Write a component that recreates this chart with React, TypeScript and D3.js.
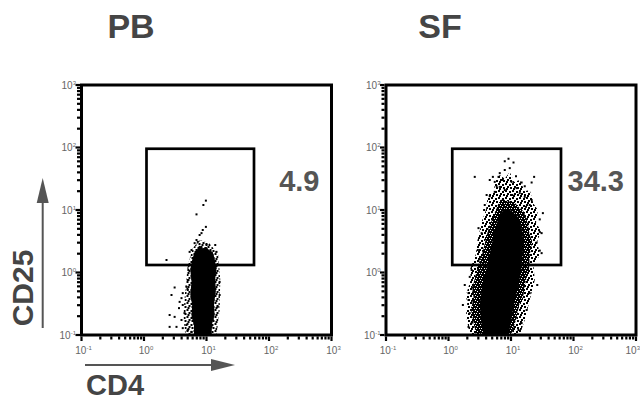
import React from 'react'
import * as d3 from 'd3'

// values are log10 of fluorescence intensity: [CD4, CD25]
const panelNames = ['PB', 'SF']
const gatePercents = ['4.9', '34.3']
const tickExponents = ['-1', '0', '1', '2', '3']

// gate: [cd4 low, cd4 high, cd25 low, cd25 high]
const pbGate = [0.04, 1.76, 0.12, 1.98]
const sfGate = [0.06, 1.8, 0.12, 1.98]

// solid (saturated) part of each cloud
const pbCore = [
  [0.84, 0.36], [0.9, 0.42], [0.94, 0.39], [1.0, 0.41], [1.04, 0.36], [1.1, 0.33], [1.13, 0.22],
  [1.16, 0.07], [1.14, -0.1], [1.15, -0.3], [1.12, -0.5], [1.13, -0.68], [1.09, -0.82], [1.08, -1.0],
  [0.8, -1.0], [0.8, -0.85], [0.76, -0.7], [0.77, -0.52], [0.74, -0.35], [0.76, -0.15], [0.74, 0.05],
  [0.77, 0.2], [0.8, 0.3],
]
const sfCore = [
  [0.86, 0.98], [0.95, 1.03], [1.03, 0.97], [1.12, 0.88], [1.18, 0.68], [1.2, 0.45], [1.18, 0.22],
  [1.16, 0.0], [1.1, -0.28], [1.04, -0.55], [1.0, -0.8], [0.96, -1.0], [0.56, -1.0], [0.52, -0.78],
  [0.5, -0.5], [0.54, -0.2], [0.62, 0.1], [0.68, 0.4], [0.74, 0.68], [0.8, 0.88],
]

// dense but not saturated band around the core
const sfMid = [
  [0.79, 1.08], [0.86, 1.18], [0.94, 1.14], [1.05, 1.13], [1.13, 1.04], [1.2, 0.98], [1.27, 0.79],
  [1.3, 0.6], [1.34, 0.5], [1.3, 0.28], [1.29, 0.05], [1.22, -0.2], [1.2, -0.36], [1.13, -0.52],
  [1.08, -0.76], [1.0, -1.0], [0.44, -1.0], [0.4, -0.8], [0.36, -0.6], [0.4, -0.4], [0.38, -0.25],
  [0.45, 0.02], [0.5, 0.2], [0.54, 0.3], [0.6, 0.55], [0.64, 0.7], [0.7, 0.86],
]

// speckled (sparse) envelope
const pbHalo = [
  [0.89, 0.52], [1.05, 0.47], [1.19, 0.28], [1.22, -0.12], [1.21, -0.6], [1.16, -1.0],
  [0.66, -1.0], [0.63, -0.68], [0.66, -0.28], [0.7, 0.12], [0.78, 0.39],
]
const sfHalo = [
  [0.82, 1.56], [0.9, 1.5], [0.98, 1.61], [1.05, 1.45], [1.14, 1.48], [1.22, 1.3], [1.3, 1.32],
  [1.36, 1.1], [1.43, 1.0], [1.4, 0.8], [1.48, 0.66], [1.42, 0.5], [1.46, 0.28], [1.36, 0.1],
  [1.38, -0.12], [1.3, -0.44], [1.22, -0.76], [1.14, -1.0], [0.34, -1.0], [0.28, -0.68],
  [0.3, -0.5], [0.28, -0.36], [0.36, -0.1], [0.34, 0.04], [0.44, 0.3], [0.46, 0.5], [0.54, 0.84],
  [0.6, 1.0], [0.63, 1.24], [0.73, 1.3], [0.74, 1.45],
]

// individual events outside the dense part
const pbDots = [
  [0.99, 1.15], [0.95, 1.08], [0.84, 0.93], [0.99, 0.73], [0.94, 0.68], [0.92, 0.63],
  [0.89, 0.6], [0.84, 0.52], [0.81, 0.47], [0.86, 0.49], [0.76, 0.36], [0.73, 0.33],
  [1.16, 0.33], [0.36, 0.2], [0.49, -0.24], [0.44, -0.36], [0.62, -0.33], [0.6, -0.41],
  [0.57, -0.47], [0.62, -0.52], [0.56, -0.57], [0.68, -0.23], [0.7, -0.28], [1.21, -0.15],
  [1.21, -0.36], [1.18, -0.55], [0.41, -0.68], [0.49, -0.71], [0.65, -0.65], [0.6, -0.76],
  [0.68, -0.84], [0.52, -0.87], [0.62, -0.89], [0.41, -0.87], [1.1, -0.76], [1.08, -0.87],
  [0.7, -0.92], [0.76, -0.95], [1.05, -0.95], [0.71, 0.04], [0.7, -0.12], [1.19, 0.12],
  [1.14, 0.44], [1.0, 0.44], [0.89, 0.41],
]
const sfDots = [
  [0.96, 1.82], [0.9, 1.78], [1.04, 1.76], [0.9, 1.64], [0.98, 1.67], [0.82, 1.59],
  [0.8, 1.53], [0.66, 1.48], [0.74, 1.45], [0.42, 1.53], [0.71, 1.53], [1.17, 1.44],
  [1.01, 1.45], [1.09, 1.35], [1.37, 1.53], [1.33, 1.44], [0.77, 1.38], [0.82, 1.37],
  [1.22, 1.38], [0.61, 1.24], [0.66, 1.22], [1.14, 1.27], [1.22, 1.21], [1.33, 1.16],
  [1.3, 1.08], [1.51, 0.95], [1.46, 0.85], [0.48, 0.71], [0.53, 0.63], [1.46, 0.65],
  [1.49, 0.63], [1.41, 0.48], [1.49, 0.31], [1.46, 0.35], [0.42, 0.12], [0.37, 0.04],
  [0.34, -0.07], [0.32, -0.33], [0.32, -0.44], [0.34, -0.65], [0.37, -0.81], [0.32, -0.87],
  [1.3, -0.33], [1.25, -0.6], [1.17, -0.81], [1.12, -0.92], [0.23, -0.52], [0.26, -0.2],
  [0.47, 0.36], [0.57, 1.0], [1.38, 0.12], [1.42, -0.2], [0.74, 1.29], [0.9, 1.32],
  [1.02, 1.24], [0.58, 1.08], [1.24, 1.05], [0.87, 1.48], [1.08, 1.54],
]

const SIZE = 250
const GREY = '#454545'
const FONT = '"Liberation Sans", Arial, Helvetica, sans-serif'

const x = d3.scaleLog().domain([0.1, 1000]).range([0, SIZE])
const y = d3.scaleLog().domain([0.1, 1000]).range([SIZE, 0])
const px = (v: number) => x(Math.pow(10, v))
const py = (v: number) => y(Math.pow(10, v))
const isMajor = (t: number) => Math.abs(Math.log10(t) - Math.round(Math.log10(t))) < 1e-6
const outline = d3.line<number[]>().x(d => px(d[0])).y(d => py(d[1])).curve(d3.curveLinearClosed)

const Panel = ({ left, top, gate, core, mid, halo, dots, pct, clipLast }: any) => {
  const ticks = x.ticks()
  const majors = ticks.filter(isMajor)
  return (
    <g transform={`translate(${left},${top})`}>
      <path d={outline(halo) || ''} fill="url(#sparse)" />
      {mid && <path d={outline(mid) || ''} fill="url(#dense)" />}
      <path d={outline(core) || ''} fill="#000" />
      {dots.map((d: number[], i: number) => (
        <rect key={i} x={px(d[0]) - 1} y={py(d[1]) - 1} width={2} height={2} fill="#000" />
      ))}
      <rect
        x={px(gate[0])} y={py(gate[3])}
        width={px(gate[1]) - px(gate[0])} height={py(gate[2]) - py(gate[3])}
        fill="none" stroke="#000" strokeWidth={2.7}
      />
      <text x={238} y={106} textAnchor="end" fontFamily={FONT} fontWeight="bold" fontSize={29} fill="#555">{pct}</text>
      <rect x={0} y={0} width={SIZE} height={SIZE} fill="none" stroke="#000" strokeWidth={3} />
      {ticks.map((t, i) => (
        <g key={i}>
          <line x1={-1.5} x2={isMajor(t) ? -6 : -4.5} y1={y(t)} y2={y(t)} stroke="#000" strokeWidth={2.2} />
          <line x1={x(t)} x2={x(t)} y1={SIZE + 1.5} y2={SIZE + (isMajor(t) ? 6 : 4.5)} stroke="#000" strokeWidth={2.2} />
        </g>
      ))}
      {majors.map((t, i) => {
        const last = clipLast && i === majors.length - 1
        return (
          <g key={'m' + i} fontFamily={FONT} fill="#666">
            <text x={-5.5} y={y(t) + 3.5} textAnchor="end" fontSize={10}>
              10<tspan fontSize={6} dy={-4}>{tickExponents[i]}</tspan>
            </text>
            <text x={last ? x(t) + 4 : x(t) + 2} y={SIZE + 18.5} textAnchor={last ? 'end' : 'middle'} fontSize={10}>
              10<tspan fontSize={6} dy={-4}>{tickExponents[i]}</tspan>
            </text>
          </g>
        )
      })}
    </g>
  )
}

export default function App() {
  return (
    <svg width={640} height={400} style={{ position: 'absolute', left: 0, top: 0, background: '#fff' }}>
      <defs>
        <pattern id="sparse" width={7} height={7} patternUnits="userSpaceOnUse">
          <rect x={0} y={0} width={2} height={2} fill="#000" />
          <rect x={4} y={1} width={2} height={2} fill="#000" />
          <rect x={2} y={3} width={2} height={2} fill="#000" />
          <rect x={5} y={4} width={2} height={2} fill="#000" />
          <rect x={1} y={5} width={2} height={2} fill="#000" />
        </pattern>
        <pattern id="dense" width={5} height={5} patternUnits="userSpaceOnUse">
          <rect x={0} y={0} width={5} height={5} fill="#000" />
          <rect x={1} y={1} width={1} height={1} fill="#fff" />
          <rect x={3} y={3} width={1} height={1} fill="#fff" />
          <rect x={4} y={0} width={1} height={1} fill="#fff" />
          <rect x={0} y={3} width={1} height={1} fill="#fff" />
        </pattern>
      </defs>
      <rect width={640} height={400} fill="#fff" />
      <text x={131} y={37.5} textAnchor="middle" fontFamily={FONT} fontWeight="bold" fontSize={34} fill={GREY}>{panelNames[0]}</text>
      <text x={440} y={37.5} textAnchor="middle" fontFamily={FONT} fontWeight="bold" fontSize={34} fill={GREY}>{panelNames[1]}</text>
      <Panel left={81.5} top={85} gate={pbGate} core={pbCore} halo={pbHalo} dots={pbDots} pct={gatePercents[0]} />
      <Panel left={386} top={85} gate={sfGate} core={sfCore} mid={sfMid} halo={sfHalo} dots={sfDots} pct={gatePercents[1]} clipLast />
      {/* axis name arrows */}
      <line x1={42.7} y1={328} x2={42.7} y2={198} stroke="#555" strokeWidth={2} />
      <polygon points="42.7,178 36.7,203 48.7,203" fill="#555" />
      <text transform="translate(33,288) rotate(-90)" textAnchor="middle" fontFamily={FONT} fontWeight="bold" fontSize={30} fill={GREY}>CD25</text>
      <line x1={85} y1={365} x2={215} y2={365} stroke="#555" strokeWidth={2} />
      <polygon points="235,365 211,359 211,371" fill="#555" />
      <text x={86} y={395} fontFamily={FONT} fontWeight="bold" fontSize={29} fill={GREY}>CD4</text>
    </svg>
  )
}
